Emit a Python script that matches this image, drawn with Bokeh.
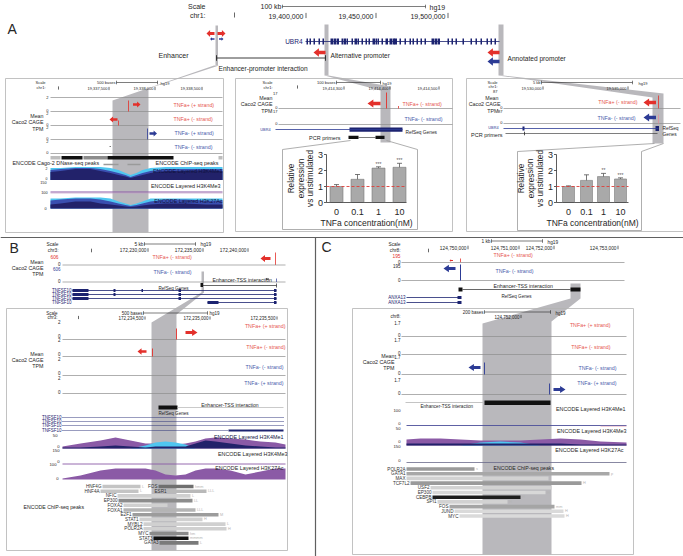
import math
from bokeh.plotting import figure
from bokeh.models import Range1d, ColumnDataSource
from bokeh.embed import file_html
from bokeh.resources import INLINE
from bokeh.core.properties import value

# ---------------- data ----------------
conc_labels = ["0", "0.1", "1", "10"]
alt_expr = [1.00, 1.45, 2.15, 2.20]
alt_err = [0.12, 0.30, 0.08, 0.25]
alt_sig = ["", "", "***", "***"]
ann_expr = [1.00, 1.38, 1.62, 1.47]
ann_err = [0.04, 0.35, 0.20, 0.07]
ann_sig = ["", "", "**", "***"]
yticks = [0, 1, 2, 3]

ubr4_exon_x = [306, 309, 313, 318, 322, 330, 333, 336, 341, 343, 346, 351, 354, 357, 361, 365,
               368, 372, 375, 377, 381, 385, 389, 392, 394, 399, 404, 409, 412, 416, 420, 424,
               431, 434, 437, 447, 451, 455, 462, 470, 475, 480, 486, 490, 494]
ubr4_exon_w = [1.5, 1.5, 1.5, 1.5, 1.5, 2.5, 2.5, 2.5, 1.5, 2.5, 1.5, 1.5, 2.5, 1.5, 1.5, 1.5,
               1.5, 2.5, 1.5, 1.5, 1.5, 2.5, 2.5, 2.5, 2.5, 1.5, 1.5, 1.5, 1.5, 1.5, 1.5, 1.5,
               2.5, 2.5, 2.5, 1.5, 1.5, 1.5, 1.5, 1.5, 1.5, 1.5, 1.5, 1.5, 1.5]

b_chip_names = ["HNF4G", "FOS", "HNF4A", "ESR1", "NFIC", "EP300", "FOXA2", "FOXA1", "E2F1",
                "STAT1", "MYBL2", "POLR2A", "MYC", "STAT3", "GATA3"]
b_chip_row = [0, 0, 1, 1, 2, 3, 4, 5, 6, 7, 8, 9, 10, 11, 12]
b_chip_start = [102, 158, 100, 167, 117, 118, 123, 123, 132, 139, 143, 143, 149, 153, 159]
b_chip_end = [140, 193, 138, 206, 190, 192, 167, 195, 218, 202, 225, 226, 188, 188, 198]
b_chip_shade = ["#c4c4c4", "#6f6f6f", "#c4c4c4", "#b9b9b9", "#d0d0d0", "#8c8c8c", "#d0d0d0",
                "#b4b4b4", "#9c9c9c", "#d0d0d0", "#d0d0d0", "#d0d0d0", "#8a8a8a", "#111111", "#7a7a7a"]
b_chip_score = ["L", "hmm", "L", "LLL", "L", "LL", "", "LLL", "M", "H", "L", "H", "hm", "mmmm", "L"]

c_chip_names = ["POLR2A", "GATA1", "MAX", "TCF7L2", "USF2", "EP300", "CEBPB", "SPI1", "FOS", "JUND", "MYC"]
c_chip_start = [406, 406, 406, 410, 430, 432, 432, 437, 449, 454, 459]
c_chip_end = [474, 609, 548, 581, 551, 545, 520, 507, 554, 563, 564]
c_chip_shade = ["#9a9a9a", "#a8a8a8", "#d2d2d2", "#9a9a9a", "#d2d2d2", "#d8d8d8", "#1e1e1e",
                "#d2d2d2", "#a5a5a5", "#dadada", "#dadada"]
c_chip_score = ["s", "p", "", "H", "", "H", "H", "H", "mm", "H", "H"]

a_sig_x = [50, 60, 75, 90, 100, 110, 118, 125, 130, 136, 142, 150, 165, 185, 205, 222]
a_k4me1_light = [12, 12, 13, 13, 13, 12, 10, 7, 5, 7, 10, 12, 13, 13, 13, 13]
a_k4me1_mid = [10, 11, 12, 12, 11, 9, 7, 5, 3, 5, 7, 9, 11, 11, 11, 11]
a_k4me1_navy = [8, 9, 11, 11, 9, 7, 5, 3.5, 2, 3.5, 5, 7, 9, 9, 10, 9]
a_k27ac_light = [10, 10, 11, 11, 11, 10, 7, 5, 3.5, 5, 7, 10, 10, 10, 10, 10]
a_k27ac_mid = [8, 9, 10, 10, 9, 7, 5, 3.5, 2.5, 3.5, 5, 7, 9, 9, 8, 8]
a_k27ac_navy = [4, 5, 7, 7, 5, 4, 3, 2, 1.5, 2, 3, 4, 5, 5, 4, 4]

b_sig_x = [62, 80, 100, 115, 130, 145, 155, 165, 175, 185, 195, 205, 215, 230, 245, 260, 275, 285]
b_k4me1_purple = [2, 5, 8, 11, 8, 5, 5, 5, 4, 5, 7, 10, 11, 10, 9, 7, 6, 4]
b_k4me1_light = [0, 0, 0, 0, 0, 3, 6, 7, 6, 4, 0, 0, 0, 0, 0, 0, 0, 0]
b_k4me1_navy = [1, 1, 2, 3, 2, 1, 2, 2, 2, 2, 5, 8, 7, 5, 3, 2, 1, 1]
b_k27ac_purple = [1, 4, 9, 11, 11, 11, 9, 5, 4, 5, 9, 11, 11, 9, 5, 8, 11, 11]

c_sig_x = [406, 420, 440, 460, 480, 500, 520, 540, 560, 580, 600, 626]
c_k4me3_purple = [6, 7, 7, 6, 5, 5, 5, 6, 7, 6, 4, 3]
c_k4me3_light = [0, 0, 0, 0, 3, 4, 3, 0, 0, 0, 0, 0]
c_k4me3_navy = [2, 2, 2, 2, 2, 2, 2, 2, 2, 1, 1, 1]

# ---------------- styles ----------------
RED = "#e3302b"; REDT = "#e6564f"; BLUE = "#2c3b95"; BLUET = "#4a5cab"; NAVY = "#1c2370"
BAND = "#b9b8bc"; LINE = "#8c8c8c"; TXT = "#262626"; BOX = "#b3b3b3"
PURPLE = "#8b5aa6"; LIGHTB = "#4fc6f0"; MIDB = "#3a4fb0"; DNAVY = "#22226a"
FONT = "Liberation Sans"

T = dict(x=[], y=[], text=[], size=[], color=[], align=[], angle=[])
L = dict(xs=[], ys=[], color=[], width=[])
Q = dict(left=[], right=[], top=[], bottom=[], color=[])
BANDS = dict(xs=[], ys=[], color=[])
HIST = dict(xs=[], ys=[], color=[])
ARR = dict(xs=[], ys=[], color=[])
DL = dict(xs=[], ys=[])
DOT = dict(xs=[], ys=[])


def t(x, y, s, size=5, color=TXT, align="left", angle=0.0):
    T["x"].append(x); T["y"].append(y); T["text"].append(s)
    T["size"].append(f"{size}px"); T["color"].append(color)
    T["align"].append(align); T["angle"].append(angle)


def pl(xs, ys, color=LINE, width=0.7):
    L["xs"].append(list(xs)); L["ys"].append(list(ys))
    L["color"].append(color); L["width"].append(width)


def seg(x0, y0, x1, y1, color=LINE, width=0.7):
    pl([x0, x1], [y0, y1], color, width)


def rect(l, r, tp, bt, color):
    Q["left"].append(l); Q["right"].append(r); Q["top"].append(tp)
    Q["bottom"].append(bt); Q["color"].append(color)


def band(pts, color=BAND):
    BANDS["xs"].append([q[0] for q in pts]); BANDS["ys"].append([q[1] for q in pts])
    BANDS["color"].append(color)


def hist(xs, hs, base, color):
    HIST["xs"].append([xs[0]] + list(xs) + [xs[-1]])
    HIST["ys"].append([base] + [base - h for h in hs] + [base])
    HIST["color"].append(color)


def arrow(tip, y, length, h, direction, color):
    d = 1 if direction == "right" else -1
    tail = tip - d * length
    hb = tip - d * length * 0.45
    s = h * 0.42
    ARR["xs"].append([tail, hb, hb, tip, hb, hb, tail])
    ARR["ys"].append([y - s, y - s, y - h, y, y + h, y + s, y + s])
    ARR["color"].append(color)


def outline(l, r, tp, bt, color=BOX, width=0.8):
    pl([l, r, r, l, l], [tp, tp, bt, bt, tp], color, width)


def tick(x, y, hh=2.2, color=TXT, width=0.7):
    seg(x, y - hh, x, y + hh, color, width)


def scalebar(x0, x1, y, color=TXT, width=0.6):
    seg(x0, y, x1, y, color, width)
    tick(x0, y, 1.8, color, width)
    tick(x1, y, 1.8, color, width)


# ---------------- grey bands / wedges ----------------
band([(215, 25), (217.5, 25), (217.5, 65), (215, 65)])
band([(324, 24), (328, 24), (328, 75), (324, 75)])
band([(498, 24), (503, 24), (503, 75), (498, 75)])
band([(213.5, 65), (218.5, 65), (148, 88), (148, 232), (112, 232), (112, 100)])
band([(324, 75), (328, 75), (390, 86), (390, 142), (380, 142), (380, 90)])
band([(498, 75), (503, 75), (663, 93), (663, 143), (652, 143), (652, 97)])
band([(201, 271), (203.5, 271), (203.5, 292), (176, 314), (176, 550), (151, 550), (151, 322), (201, 292)])
band([(570, 283), (580, 283), (580, 298), (551, 321), (551, 554), (482, 554), (482, 323), (570, 298)])

# ---------------- PANEL A header ----------------
t(205, 5.5, "Scale", 7, align="right")
t(205, 14.5, "chr1:", 7, align="right")
tick(234, 14.5, 2.5)
t(281, 6, "100 kb", 7, align="right")
scalebar(282, 425, 6)
t(429, 6.5, "hg19", 7)
for lab, xr in [("19,400,000", 303), ("19,450,000", 373), ("19,500,000", 445)]:
    t(xr, 15.5, lab, 7, align="right")
    tick(xr + 2.5, 15, 2.6)
t(7, 28, "A", 14)

seg(305, 41, 499, 41, NAVY, 0.8)
for ex, w in zip(ubr4_exon_x, ubr4_exon_w):
    rect(ex, ex + w, 38, 44, NAVY)
t(302, 41, "UBR4", 6.5, NAVY, "right")

arrow(206, 33, 8, 3.6, "left", RED)
arrow(225, 33, 8, 3.6, "right", RED)
arrow(209.5, 38.5, 4.5, 1.7, "left", BLUE)
arrow(223, 38.5, 4.5, 1.7, "right", BLUE)
t(188, 54.5, "Enhancer", 7, align="right")
seg(216, 57.5, 325, 57.5, TXT, 0.9)
tick(216, 57.5, 2.8, TXT, 0.9)
tick(325, 57.5, 2.8, TXT, 0.9)
t(218, 68, "Enhancer-promoter interaction", 6.6)
arrow(313, 52, 12, 4.2, "left", RED)
t(330, 54.5, "Alternative promoter", 6.6)
arrow(487, 52, 12, 4.2, "left", RED)
arrow(487, 61, 12, 4.2, "left", BLUE)
t(507, 57.5, "Annotated promoter", 6.6)

# ---------------- PANEL A box 1 (enhancer) ----------------
outline(5, 223, 78, 232)
t(45, 82, "Scale", 4, align="right")
t(45, 87, "chr1:", 4, align="right")
tick(58, 87.5, 1.6)
t(115, 82, "500 bases", 4, align="right")
scalebar(116, 157, 82)
t(160, 82.5, "hg19", 4)
for lab, xr in [("19,337,500", 107), ("19,338,000", 153), ("19,338,500", 200)]:
    t(xr, 88, lab, 4, align="right")
    tick(xr + 1.5, 88, 1.6)
for yy in [97, 111, 125, 139, 153]:
    seg(50, yy, 222, yy)
for lab, yy in [("2", 97), ("0", 109.5), ("2", 112.5), ("0", 123.5), ("2", 126.5), ("0", 137.5), ("2", 140.5), ("0", 152)]:
    t(48, yy, lab, 4, align="right")
seg(128, 100, 128, 111, RED, 0.8)
arrow(140, 104, 7.5, 3, "right", RED)
t(173, 104, "TNFa+ (+ strand)", 5.3, REDT)
seg(118, 120, 118, 125, RED, 0.8)
arrow(109, 119, 8, 3, "left", RED)
t(173, 118.5, "TNFa+ (- strand)", 5.3, REDT)
seg(147, 128, 147, 139, BLUE, 0.8)
arrow(156.5, 133, 7.5, 3, "right", BLUE)
t(174, 132.5, "TNFa- (+ strand)", 5.3, BLUET)
t(174, 146.5, "TNFa- (- strand)", 5.3, BLUET)
seg(109, 146, 110.5, 146, TXT, 0.6)
t(43, 115, "Mean", 5.3, align="right")
t(43, 121.5, "Caco2 CAGE", 5.3, align="right")
t(43, 128, "TPM", 5.3, align="right")
for l_, r_, c_ in [(50, 60, "#bdbdbd"), (61, 82, "#111111"), (83, 107, "#8c8c8c"), (107, 173, "#111111"), (218, 222, "#bdbdbd")]:
    rect(l_, r_, 155.5, 159, c_)
for l_, r_ in [(103, 118), (127, 140)]:
    rect(l_, r_, 163.3, 164.8, "#9a9a9a")
t(12, 162.5, "ENCODE Cago-2 DNase-seq peaks", 5.4)
t(218, 162.5, "ENCODE ChIP-seq peaks", 5.4, align="right")
hist(a_sig_x, a_k4me1_light, 179.5, LIGHTB)
hist(a_sig_x, a_k4me1_mid, 179.5, MIDB)
hist(a_sig_x, a_k4me1_navy, 179.5, DNAVY)
t(222, 170.5, "ENCODE Layered H3K4Me1", 5.4, "#10133f", "right")
t(47, 168, "2", 3.5, align="right")
t(47, 178, "0", 3.5, align="right")
t(46, 181.5, "150", 3.8, align="right")
t(220, 185.5, "ENCODE Layered H3K4Me3", 5.4, align="right")
seg(50, 191.5, 222, 191.5, PURPLE, 1.0)
seg(50, 192.6, 222, 192.6, "#c2a0c8", 0.6)
t(47, 191.5, "100", 3.8, align="right")
hist(a_sig_x, a_k27ac_light, 208, LIGHTB)
hist(a_sig_x, a_k27ac_mid, 208, MIDB)
hist(a_sig_x, a_k27ac_navy, 208, DNAVY)
t(222, 200, "ENCODE Layered H3K27Ac", 5.4, "#10133f", "right")
t(46, 208, "0", 3.8, align="right")

# ---------------- PANEL A box 2 (alternative promoter) ----------------
outline(235, 452, 78, 231)
t(272, 82, "Scale", 4, align="right")
t(272, 86.5, "chr1:", 4, align="right")
tick(297, 86.5, 1.6)
t(335, 82, "100 bases", 4, align="right")
scalebar(336, 380, 82)
t(382, 82.5, "hg19", 4)
for lab, xr in [("19,414,300", 342), ("19,414,400", 388), ("19,414,500", 437)]:
    t(xr, 87.5, lab, 4, align="right")
    tick(xr + 1.5, 87.5, 1.6)
seg(278, 108, 452, 108)
seg(278, 124, 452, 124)
for lab, yy in [("17", 93), ("0", 106.5), ("17", 111), ("0", 122.5)]:
    t(277, yy, lab, 4, align="right")
t(272, 97, "Mean", 5.3, align="right")
t(272, 103.5, "Caco2 CAGE", 5.3, align="right")
t(272, 110, "TPM", 5.3, align="right")
seg(386, 92, 386, 108, RED, 0.9)
seg(398, 105.5, 398, 108, RED, 0.8)
arrow(367, 103, 13, 4, "left", RED)
t(402, 103, "TNFa+ (- strand)", 5.3, REDT)
t(404, 118.5, "TNFa- (- strand)", 5.3, BLUET)
seg(275, 129, 402, 129, BLUE, 0.8)
rect(349, 402, 127, 131.3, NAVY)
t(270, 129, "UBR4", 3.8, BLUE, "right")
t(405, 131.5, "RefSeq Genes", 4.8)
t(340, 137, "PCR primers", 5.5, align="right")
rect(348, 358, 135.3, 138.6, "#111111")
rect(375, 384, 135.3, 138.6, "#111111")
seg(358, 137, 375, 137, TXT, 0.6)
pl([350, 282, 282, 417, 417, 386], [140, 149, 229, 229, 149, 140], "#9a9a9a", 0.8)

# ---------------- PANEL A box 3 (annotated promoter) ----------------
outline(466, 700, 78, 231)
t(497, 81.5, "Scale", 4, align="right")
t(497, 86, "chr1:", 4, align="right")
t(497, 91, "87", 4, align="right")
t(540, 82, "5 kb", 4, align="right")
scalebar(541, 632, 82)
t(638, 82.5, "hg19", 4)
for lab, xr in [("19,530,000", 541), ("19,535,000", 626)]:
    t(xr, 87.5, lab, 4, align="right")
    tick(xr + 1.5, 87.5, 1.6)
seg(503, 108, 680, 108)
seg(503, 123, 680, 123)
for lab, yy in [("0", 106.5), ("87", 111), ("0", 122)]:
    t(502, yy, lab, 4, align="right")
t(498, 97, "Mean", 5.3, align="right")
t(500, 103.5, "Caco2 CAGE", 5.3, align="right")
t(498, 110, "TPM", 5.3, align="right")
seg(658, 95, 658, 108, RED, 0.8)
seg(658, 114, 658, 123, "#e58a9a", 0.7)
arrow(643, 102, 12.5, 4, "left", RED)
t(637, 101.5, "TNFa+ (- strand)", 5.3, REDT, "right")
arrow(643, 117, 12.5, 4, "left", BLUE)
t(635, 117, "TNFa- (- strand)", 5.3, BLUET, "right")
seg(503, 128, 658, 128, BLUE, 0.8)
rect(522, 524, 126, 130, NAVY)
rect(655, 658.5, 125.5, 130.5, NAVY)
t(498, 127.5, "UBR4", 3.8, BLUE, "right")
t(662, 127.5, "RefSeq", 4.8)
t(662, 134, "Genes", 4.8)
t(502, 134, "PCR primers", 5.5, align="right")
seg(505, 133, 657, 133, TXT, 0.6)
tick(524, 133, 1.8, TXT, 0.8)
pl([654, 517, 517, 641, 641, 663], [143, 151, 230, 230, 151, 143], "#9a9a9a", 0.8)


# ---------------- bar charts ----------------
def barchart(axis_x, y0, scale, centers, vals, errs, sigs, width, xmax, titles_x):
    top = y0 - 3 * scale
    seg(axis_x, y0, axis_x, top, "#333333", 0.8)
    seg(axis_x, y0, xmax, y0, "#333333", 0.8)
    for tv in yticks:
        yy = y0 - tv * scale
        seg(axis_x - 2.5, yy, axis_x, yy, "#333333", 0.8)
        t(axis_x - 3.5, yy, str(tv), 9, align="right")
    for c, v, e, s, lab in zip(centers, vals, errs, sigs, conc_labels):
        rect(c - width / 2, c + width / 2, y0 - v * scale, y0, "#a9a9a9")
        pl([c - width / 2, c - width / 2, c + width / 2, c + width / 2],
           [y0, y0 - v * scale, y0 - v * scale, y0], "#7a7a7a", 0.6)
        yt = y0 - (v + e) * scale
        seg(c, y0 - v * scale, c, yt, "#555555", 0.8)
        seg(c - 2.5, yt, c + 2.5, yt, "#555555", 0.8)
        if s:
            t(c, yt - 3, s, 5, "#555555", "center")
        t(c, y0 + 9.5, lab, 9, align="center")
    DL["xs"].append([axis_x, xmax]); DL["ys"].append([y0 - scale, y0 - scale])
    t((axis_x + xmax) / 2, y0 + 20.5, "TNFa concentration(nM)", 8.5, align="center")
    ym = (y0 + top) / 2
    for tx, s in zip(titles_x, ["Relative", "expression", "vs unstimulated"]):
        t(tx, ym, s, 8.2, align="center", angle=math.pi / 2)


barchart(326, 202, 16, [336, 357, 378, 399], alt_expr, alt_err, alt_sig, 13, 406, [291, 300.5, 310])
barchart(556, 202, 16, [568, 586, 603, 620], ann_expr, ann_err, ann_sig, 12, 628, [521, 530.5, 540])

# ---------------- dividers ----------------
seg(0, 237, 700, 237, "#606060", 1.2)
seg(315, 237, 315, 560, "#606060", 1.2)

# ---------------- PANEL B ----------------
t(9, 247, "B", 14)
t(58, 244, "Scale", 4.8, align="right")
t(58, 250, "chr3:", 4.8, align="right")
t(58, 256, "606", 4.8, RED, "right")
tick(91, 250, 1.8)
t(143, 243.5, "5 kb", 4.8, align="right")
scalebar(144, 195, 243.5)
t(200, 244, "hg19", 4.8)
for lab, xr in [("172,230,000", 146), ("172,235,000", 201), ("172,240,000", 246)]:
    t(xr, 249.5, lab, 4.8, align="right")
    tick(xr + 1.5, 249.5, 1.8)
t(152, 256, "TNFa+ (- strand)", 5.3, REDT)
seg(275, 252, 275, 264.5, RED, 0.8)
arrow(260, 258, 10, 3.4, "left", RED)
seg(62, 264.5, 285, 264.5)
seg(62, 281.5, 285, 281.5)
t(60, 263, "0", 4.5, align="right")
t(60, 268, "606", 4.5, BLUE, "right")
t(60, 280, "0", 4.5, align="right")
t(43, 261, "Mean", 5.3, align="right")
t(43, 267, "Caco2 CAGE", 5.3, align="right")
t(43, 273, "TPM", 5.3, align="right")
t(153, 271, "TNFa- (- strand)", 5.3, BLUET)
arrow(265, 278.5, 3.5, 1.3, "left", TXT)
seg(276, 278, 276, 281.5, BLUE, 0.7)
rect(200, 202.5, 282.5, 286.5, "#111111")
seg(202, 285, 276, 285, TXT, 0.7)
tick(276, 285, 2, TXT, 0.7)
t(212, 279.5, "Enhancer-TSS interaction", 5.2)
t(158, 287.5, "RefSeq Genes", 4.6)
gene_rows_y = [290, 294, 298, 302]
gene_rows_start = [72, 72, 72, 207]
gene_rows_exons = [[(72, 88), (113, 115), (141, 142.5), (178, 180.5), (273.5, 276)],
                   [(72, 88), (113, 115), (178, 180.5), (273.5, 276)],
                   [(72, 88), (178, 180.5), (273.5, 276)],
                   [(207, 218), (273.5, 276)]]
for yy, xs0, exs in zip(gene_rows_y, gene_rows_start, gene_rows_exons):
    seg(xs0, yy, 276, yy, NAVY, 0.8)
    for a_, b_ in exs:
        rect(a_, b_, yy - 1.5, yy + 1.5, NAVY)
    t(71, yy, "TNFSF10", 4.5, NAVY, "right")

outline(6, 287, 308, 550)
t(57, 312.5, "Scale", 4.5, align="right")
t(57, 317, "chr3:", 4.5, align="right")
tick(78, 317, 1.6)
t(142, 312.5, "500 bases", 4.5, align="right")
scalebar(143, 207, 312.5)
t(209, 313, "hg19", 4.5)
for lab, xr in [("172,234,500", 143), ("172,235,000", 208), ("172,235,500", 275)]:
    t(xr, 317.5, lab, 4.5, align="right")
    tick(xr + 1.5, 317.5, 1.6)
for yy in [339, 356, 375, 393]:
    seg(62, yy, 285, yy)
for lab, yy in [("2", 321.5), ("0", 335.5), ("2", 339.5), ("0", 353), ("2", 358), ("0", 372), ("2", 377), ("0", 391)]:
    t(60, yy, lab, 4.5, align="right")
t(285, 325, "TNFa+ (+ strand)", 5.3, REDT, "right")
seg(176, 328, 176, 339, RED, 0.9)
arrow(197, 332, 12, 3.4, "right", RED)
t(285, 346, "TNFa+ (- strand)", 5.3, REDT, "right")
seg(152, 348, 152, 356, RED, 0.9)
arrow(137, 351, 9, 3.2, "left", RED)
t(43, 353, "Mean", 5.3, align="right")
t(43, 359, "Caco2 CAGE", 5.3, align="right")
t(43, 365, "TPM", 5.3, align="right")
t(283, 366, "TNFa- (- strand)", 5.3, BLUET, "right")
t(283, 382, "TNFa- (+ strand)", 5.3, BLUET, "right")
rect(158, 177, 405, 409, "#111111")
seg(177, 407, 283, 407, "#bdbdbd", 0.8)
t(258, 404, "Enhancer-TSS interaction", 5, align="right")
t(158, 413, "RefSeq Genes", 4.6)
for yy, xe in zip([417, 421, 425, 430], [283, 283, 283, 228]):
    DOT["xs"].append([62, xe]); DOT["ys"].append([yy, yy])
    t(61, yy, "TNFSF10", 4.5, NAVY, "right")
rect(228, 283, 429, 431, NAVY)
hist(b_sig_x, b_k4me1_purple, 448, PURPLE)
hist(b_sig_x, b_k4me1_light, 448, LIGHTB)
hist(b_sig_x, b_k4me1_navy, 448, DNAVY)
t(283, 436, "ENCODE Layered H3K4Me1", 5.4, "#10133f", "right")
t(57, 435, "50", 4.2, align="right")
t(59, 446, "0", 4.2, align="right")
t(59, 449.5, "150", 4.2, align="right")
t(287, 453.5, "ENCODE Layered H3K4Me3", 5.4, align="right")
seg(62, 463.5, 285, 463.5, PURPLE, 0.9)
t(56, 464, "100", 4.2, align="right")
t(59, 461, "0", 4.2, align="right")
t(283, 467.5, "ENCODE Layered H3K27Ac", 5.4, align="right")
hist(b_sig_x, b_k27ac_purple, 479, PURPLE)
t(58, 478, "0", 4.2, align="right")
t(23, 506, "ENCODE ChIP-seq peaks", 5.2)
for nm, rw, s0, e0, sh, sc in zip(b_chip_names, b_chip_row, b_chip_start, b_chip_end, b_chip_shade, b_chip_score):
    yy = 486 + 4.7 * rw
    rect(s0, e0, yy - 1.8, yy + 1.8, sh)
    t(s0 - 1, yy, nm, 4.6, "#333333", "right")
    if sc:
        t(e0 + 1.5, yy, sc, 3.8, "#b5b5b5")

# ---------------- PANEL C ----------------
t(321, 246, "C", 14)
t(400, 244, "Scale", 4.8, align="right")
t(400, 250, "chr8:", 4.8, align="right")
t(400, 255.5, "195", 4.8, RED, "right")
tick(428, 250, 1.8)
t(490, 240.5, "1 kb", 4.8, align="right")
scalebar(491, 542, 240.5)
t(547, 241.5, "hg19", 4.8)
for lab, xr in [("124,750,000", 466), ("124,751,000", 517), ("124,752,000", 552), ("124,753,000", 616)]:
    t(xr, 247, lab, 4.8, align="right")
    tick(xr + 1.5, 247, 1.8)
t(493, 254, "TNFa+ (- strand)", 5.3, REDT)
arrow(449, 260, 3.5, 1.3, "left", RED)
seg(460, 258, 460, 262, RED, 0.8)
seg(401, 262, 624, 262)
seg(401, 280, 624, 280)
t(400, 261, "0", 4.5, align="right")
t(400, 265, "195", 4.5, align="right")
t(400, 279, "0", 4.5, align="right")
t(495, 270, "TNFa- (- strand)", 5.3, BLUET)
seg(460, 264, 460, 280, BLUE, 1.0)
arrow(443, 268, 12, 3.8, "left", BLUE)
rect(458, 462, 287, 291, "#111111")
rect(570, 580, 287, 291, "#111111")
seg(462, 289, 570, 289, TXT, 0.7)
t(493, 285, "Enhancer-TSS interaction", 5.2)
t(501, 295.5, "RefSeq Genes", 4.6)
for yy in [297, 302]:
    seg(406, yy, 458, yy, NAVY, 0.8)
    rect(457, 461, yy - 1.5, yy + 1.5, NAVY)
    t(405, yy, "ANXA13", 4.5, NAVY, "right")

outline(352, 633, 308, 554)
t(483, 311.5, "200 bases", 4.5, align="right")
scalebar(484, 550, 311.5)
t(555, 312.5, "hg19", 4.5)
t(400, 316, "chr8:", 4.5, align="right")
t(519, 316, "124,752,000", 4.5, align="right")
tick(520.5, 316, 1.6)
for yy in [336, 354, 374, 394]:
    seg(401, yy, 626, yy)
for lab, yy in [("1.7", 322), ("0", 334), ("1.7", 339), ("0", 352.5), ("1.7", 356), ("0", 372), ("1.7", 379), ("0", 392.5)]:
    t(400, yy, lab, 4.5, align="right")
t(610, 324.5, "TNFa+ (+ strand)", 5.3, REDT, "right")
t(610, 346, "TNFa+ (- strand)", 5.3, REDT, "right")
t(394, 355, "Mean", 5.3, align="right")
t(394, 361, "Caco2 CAGE", 5.3, align="right")
t(394, 367, "TPM", 5.3, align="right")
seg(484, 362, 484, 374, BLUE, 0.9)
arrow(468, 367, 12, 3.6, "left", BLUE)
t(616, 367, "TNFa- (- strand)", 5.3, BLUET, "right")
seg(549, 383, 549, 394, BLUE, 0.9)
arrow(565, 389, 12, 3.6, "right", BLUE)
t(616, 382, "TNFa- (+ strand)", 5.3, BLUET, "right")
seg(405, 402, 483, 402, "#bdbdbd", 0.9)
rect(484, 550, 400, 404.5, "#111111")
t(420, 405.5, "Enhancer-TSS interaction", 4.6)
t(625, 408.5, "ENCODE Layered H3K4Me1", 5.4, align="right")
t(400, 410, "100", 4.2, align="right")
t(400, 423, "0", 4.2, align="right")
t(400, 428, "50", 4.2, align="right")
seg(406, 425, 626, 425, "#4c4f9a", 0.9)
seg(600, 425.8, 626, 425.8, "#e7a3b5", 0.6)
t(626, 430.5, "ENCODE Layered H3K4Me3", 5.4, align="right")
hist(c_sig_x, c_k4me3_purple, 445, PURPLE)
hist(c_sig_x, c_k4me3_light, 445, LIGHTB)
hist(c_sig_x, c_k4me3_navy, 445, DNAVY)
t(400, 441, "0", 4.2, align="right")
t(400, 445.5, "150", 4.2, align="right")
t(623, 449, "ENCODE Layered H3K27Ac", 5.4, align="right")
t(400, 460, "0", 4.2, align="right")
seg(406, 462, 626, 462, "#6a6a8a", 0.8)
t(493, 467, "ENCODE ChIP-seq peaks", 5.2)
for i, (nm, s0, e0, sh, sc) in enumerate(zip(c_chip_names, c_chip_start, c_chip_end, c_chip_shade, c_chip_score)):
    yy = 468.5 + 4.7 * i
    rect(s0, e0, yy - 1.8, yy + 1.8, sh)
    t(s0 - 1, yy, nm, 4.6, "#333333", "right")
    if sc:
        t(e0 + 1.5, yy, sc, 3.8, "#b5b5b5")

# ---------------- render ----------------
p = figure(width=683, height=556, x_range=Range1d(0, 683), y_range=Range1d(556, 0),
           output_backend="svg", toolbar_location=None, min_border=0,
           x_axis_location=None, y_axis_location=None)
p.grid.visible = False
p.outline_line_color = None
p.background_fill_color = "white"

p.patches("xs", "ys", source=ColumnDataSource(BANDS), fill_color="color", line_color=None)
p.patches("xs", "ys", source=ColumnDataSource(HIST), fill_color="color", line_color=None)
p.quad(left="left", right="right", top="top", bottom="bottom", source=ColumnDataSource(Q),
       fill_color="color", line_color=None)
p.multi_line("xs", "ys", source=ColumnDataSource(L), line_color="color", line_width="width")
p.multi_line("xs", "ys", source=ColumnDataSource(DL), line_color="#e0403a", line_width=0.9, line_dash="3 2")
p.multi_line("xs", "ys", source=ColumnDataSource(DOT), line_color=NAVY, line_width=0.9, line_dash="1 1")
p.patches("xs", "ys", source=ColumnDataSource(ARR), fill_color="color", line_color=None)
p.text("x", "y", text="text", source=ColumnDataSource(T), text_font=value(FONT),
       text_font_size="size", text_color="color", text_align="align", angle="angle",
       text_baseline="middle")

open("out.html", "w").write(file_html(p, INLINE))
